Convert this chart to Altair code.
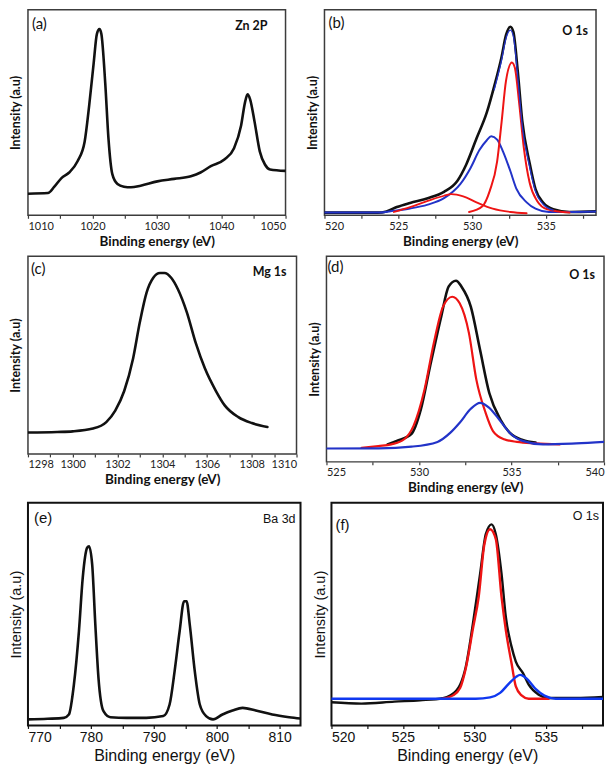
import altair as alt
import pandas as pd

# ---------------- (a) Zn 2p ----------------
a_x = [1010.0, 1013.1, 1014.1, 1015.2, 1016.4, 1017.7, 1018.8, 1019.5, 1020.2, 1020.7, 1021.1,
       1021.4, 1022.0, 1022.5, 1023.1, 1023.9, 1024.9, 1026.0, 1027.5, 1030.1, 1032.7, 1035.3,
       1036.8, 1038.4, 1040.5, 1042.0, 1043.1, 1043.7, 1044.1, 1044.5, 1045.2, 1046.0, 1046.8,
       1047.6, 1050.0]
a_y = [10.5, 10.8, 13.9, 18.1, 20.8, 26.3, 35.8, 53.2, 73.9, 88.1, 90.5,
       88.1, 64.3, 37.4, 20.0, 15.2, 13.9, 13.6, 14.4, 16.5, 17.7, 19.0,
       20.8, 23.9, 27.1, 32.6, 43.7, 54.8, 58.8, 56.4, 45.3, 31.1, 24.7,
       22.3, 21.6]

# ---------------- (b) O 1s ----------------
b_data_x = [520.0, 523.6, 524.2, 524.9, 525.8, 527.0, 528.1, 529.0, 529.6, 530.3, 531.0, 531.5,
            532.0, 532.3, 532.6, 532.8, 533.1, 533.4, 533.9, 534.3, 534.8, 535.5, 536.6, 538.4]
b_data_y = [1.3, 1.3, 1.9, 4.0, 6.0, 8.3, 11.4, 16.7, 24.6, 37.3, 50.0, 62.7,
            77.0, 87.6, 91.7, 89.2, 69.8, 46.0, 25.4, 12.7, 6.3, 2.9, 1.6, 1.9]
b_fit_x = [531.5, 532.0, 532.3, 532.6, 532.8, 533.1, 533.4, 533.9, 534.3, 534.8, 535.5]
b_fit_y = [61.0, 75.5, 86.0, 90.0, 87.0, 67.0, 43.5, 23.5, 11.5, 5.5, 2.5]
b_blue_x = [520.0, 523.6, 524.7, 525.8, 527.0, 528.1, 529.2, 529.9, 530.5, 531.0, 531.3, 531.7,
            532.1, 532.6, 533.0, 533.7, 534.3, 535.2, 538.4]
b_blue_y = [1.3, 1.3, 2.2, 3.3, 5.2, 8.3, 15.1, 23.0, 31.7, 36.5, 38.4, 36.8,
            31.0, 21.4, 13.0, 6.3, 3.2, 1.6, 1.9]
b_red1_x = [529.8, 530.7, 531.2, 531.7, 532.0, 532.3, 532.7, 532.9, 533.2, 533.5, 533.9, 534.4,
            535.1, 536.6]
b_red1_y = [1.6, 4.4, 11.9, 26.2, 45.2, 65.4, 74.3, 71.7, 54.0, 33.3, 15.9, 7.1, 2.9, 1.3]
b_red2_x = [524.7, 525.8, 527.0, 528.1, 528.6, 529.4, 530.3, 531.4, 532.6, 533.7]
b_red2_y = [1.6, 4.0, 7.0, 9.5, 10.3, 9.2, 6.3, 3.2, 1.6, 1.0]

# ---------------- (c) Mg 1s ----------------
c_x = [1298.0, 1299.3, 1300.0, 1300.9, 1301.5, 1301.9, 1302.3, 1302.7, 1303.0, 1303.3, 1303.6,
       1303.9, 1304.1, 1304.4, 1304.7, 1305.1, 1305.5, 1305.9, 1306.4, 1306.8, 1307.4, 1308.0,
       1308.7]
c_y = [10.8, 11.1, 11.4, 12.8, 16.1, 21.9, 31.8, 48.4, 66.7, 81.6, 89.1,
       91.5, 91.5, 89.1, 83.3, 71.6, 56.0, 43.4, 31.8, 24.4, 18.6, 15.6, 13.6]

# ---------------- (d) O 1s ----------------
d_data_x = [528.3, 528.8, 529.6, 530.1, 530.6, 531.2, 531.6, 532.0, 532.3, 532.8, 533.3, 533.8,
            534.4, 534.9, 535.6, 536.3]
d_data_y = [8.5, 10.2, 13.7, 25.5, 46.5, 70.6, 85.2, 88.1, 85.2, 75.5, 54.5, 33.5,
            20.6, 14.2, 10.6, 9.4]
d_red_x = [526.9, 527.8, 528.5, 529.2, 529.7, 530.3, 530.8, 531.3, 531.8, 532.2, 532.7, 533.1,
           533.6, 534.0, 534.6, 535.3, 536.3, 537.6]
d_red_y = [6.8, 7.7, 8.5, 11.0, 17.4, 35.2, 57.7, 75.5, 80.3, 77.1, 62.6, 40.0,
           23.9, 15.0, 11.0, 9.7, 9.0, 8.5]
d_blue_x = [525.0, 527.8, 529.6, 531.0, 531.7, 532.2, 532.8, 533.3, 533.8, 534.4, 534.9, 535.6,
            536.7, 538.5, 540.0]
d_blue_y = [6.5, 6.6, 7.4, 9.7, 14.2, 19.0, 25.8, 28.7, 26.3, 19.8, 14.2, 10.2,
            8.5, 9.0, 9.7]

# ---------------- (e) Ba 3d ----------------
e_x = [770.0, 773.1, 775.7, 776.5, 777.3, 778.1, 778.7, 779.4, 779.7, 780.2, 780.7, 781.2,
       782.0, 783.1, 785.7, 788.8, 791.5, 792.5, 793.3, 794.1, 794.8, 795.2, 795.7, 796.5,
       797.3, 798.3, 799.4, 800.9, 802.5, 804.1, 806.2, 808.8, 811.5, 813.3]
e_y = [2.7, 3.0, 3.4, 4.9, 18.4, 42.4, 66.3, 79.8, 80.5, 72.3, 45.4, 21.4,
       6.4, 3.7, 3.4, 3.4, 4.2, 9.4, 24.4, 42.4, 55.8, 55.8, 45.4, 24.4,
       9.4, 4.2, 2.7, 4.9, 6.7, 7.9, 6.7, 4.9, 3.7, 3.1]

# ---------------- (f) O 1s ----------------
f_data_x = [520.0, 522.1, 524.4, 526.2, 527.8, 528.3, 529.0, 529.4, 529.9, 530.4, 530.8, 531.2,
            531.5, 531.9, 532.2, 532.6, 532.9, 533.4, 533.8, 534.5, 535.2, 537.1, 539.0]
f_data_y = [10.4, 9.8, 10.7, 11.3, 12.2, 13.4, 18.3, 26.4, 45.8, 68.1, 85.9, 90.3,
            85.9, 68.1, 48.7, 35.4, 28.7, 23.5, 18.3, 13.8, 12.3, 12.3, 12.8]
f_red_x = [527.8, 528.5, 529.0, 529.4, 529.9, 530.3, 530.7, 531.1, 531.5, 531.9, 532.2, 532.6,
           532.9, 533.3, 533.8, 535.2]
f_red_y = [12.0, 13.5, 16.8, 25.7, 43.5, 57.7, 81.4, 88.1, 83.7, 57.7, 42.8, 27.9,
           17.5, 13.5, 12.0, 12.0]
f_blue_x = [520.0, 530.1, 531.1, 531.8, 532.4, 532.9, 533.2, 533.7, 534.3, 534.9, 535.7, 539.0]
f_blue_y = [12.0, 12.0, 12.6, 14.6, 18.7, 21.7, 22.7, 20.8, 16.3, 13.4, 12.0, 12.0]

RED = "#ee1414"
BLUE_A = "#2233c8"
BLUE_B = "#1038f0"

STYLE_A = dict(font="Lato", lsize=11, lcolor="#222222", tsize=13.5, tweight="bold",
               ysize=12.5, ypad=5, frame="#3c3c3c", fw=1.5, tagsize=12.5, tagweight="bold",
               letsize=15)
STYLE_E = dict(font="Liberation Sans", lsize=14, lcolor="#111111", tsize=16, tweight="normal",
               ysize=14.5, ypad=4, frame="#111111", fw=2, tagsize=12.5, tagweight="normal",
               letsize=15)


def panel(series, xdom, ticks, mod, w, h, letter, lpos, tag, tpos, st):
    x_enc = alt.X(
        "x:Q",
        scale=alt.Scale(domain=xdom, nice=False, zero=False),
        axis=alt.Axis(
            title="Binding energy (eV)", values=ticks, format="d",
            labelExpr=f"datum.value % {mod} == 0 ? datum.label : ''",
            tickSize=3, tickColor=st["frame"], tickWidth=1.2, domain=False, grid=False,
            labelFont=st["font"], labelFontSize=st["lsize"], labelColor=st["lcolor"],
            labelPadding=2, labelOverlap=False,
            titleFont=st["font"], titleFontSize=st["tsize"], titleFontWeight=st["tweight"],
            titleColor="#111111", titlePadding=3,
        ),
    )
    y_enc = alt.Y(
        "y:Q",
        scale=alt.Scale(domain=[0, 100]),
        axis=alt.Axis(
            title="Intensity (a.u)", labels=False, ticks=False, domain=False, grid=False,
            titleFont=st["font"], titleFontSize=st["ysize"], titleFontWeight=st["tweight"],
            titleColor="#111111", titlePadding=st["ypad"],
        ),
    )
    layers = []
    for xs, ys, color, sw in series:
        df = pd.DataFrame({"x": xs, "y": ys})
        layers.append(
            alt.Chart(df).mark_line(color=color, strokeWidth=sw, interpolate="monotone",
                                    clip=True, strokeJoin="round", strokeCap="round")
            .encode(x=x_enc, y=y_enc)
        )
    t1 = alt.Chart(pd.DataFrame({"t": [letter]})).mark_text(
        align="left", baseline="middle", font=st["font"], fontSize=st["letsize"],
        color="#111111",
    ).encode(x=alt.value(lpos[0]), y=alt.value(lpos[1]), text="t:N")
    t2 = alt.Chart(pd.DataFrame({"t": [tag]})).mark_text(
        align="right", baseline="middle", font=st["font"], fontSize=st["tagsize"],
        fontWeight=st["tagweight"], color="#111111",
    ).encode(x=alt.value(tpos[0]), y=alt.value(tpos[1]), text="t:N")
    return alt.layer(*layers, t1, t2).properties(
        width=w, height=h,
        view=alt.ViewBackground(stroke=st["frame"], strokeWidth=st["fw"], fill="white"),
    )


pa = panel([(a_x, a_y, "#111111", 2.6)], [1010, 1050], list(range(1010, 1051, 5)), 10,
           258, 206, "(a)", (4, 14), "Zn 2P", (240, 16), STYLE_A)

b_ticks = [520 + 2.5 * i for i in range(8)]
pb = panel([(b_data_x, b_data_y, "#111111", 2.6),
            (b_blue_x, b_blue_y, BLUE_A, 2.0),
            (b_red1_x, b_red1_y, RED, 2.0),
            (b_red2_x, b_red2_y, RED, 1.8),
            (b_fit_x, b_fit_y, BLUE_A, 1.3)],
           [520, 538.4], b_ticks, 5, 272, 206, "(b)", (4, 13), "O 1s", (264, 21), STYLE_A)

pc = panel([(c_x, c_y, "#111111", 2.6)], [1298, 1310], list(range(1298, 1311)), 2,
           269, 198, "(c)", (3, 13), "Mg 1s", (259, 16), STYLE_A)

d_ticks = [525 + 2.5 * i for i in range(7)]
pd_ = panel([(d_data_x, d_data_y, "#111111", 2.6),
             (d_red_x, d_red_y, RED, 2.2),
             (d_blue_x, d_blue_y, BLUE_A, 2.2)],
            [525, 540], d_ticks, 5, 278, 206, "(d)", (1, 11), "O 1s", (269, 19), STYLE_A)

pe = panel([(e_x, e_y, "#111111", 2.6)], [770, 813.3], list(range(770, 814, 5)), 10,
           273, 223, "(e)", (6, 15), "Ba 3d", (268, 16), STYLE_E)

f_ticks = [520 + 2.5 * i for i in range(8)]
pf = panel([(f_data_x, f_data_y, "#111111", 2.4),
            (f_red_x, f_red_y, RED, 2.4),
            (f_blue_x, f_blue_y, BLUE_B, 2.4)],
           [520, 539], f_ticks, 5, 272, 223, "(f)", (4, 22), "O 1s", (268, 13), STYLE_E)

row1 = alt.hconcat(pa, pb, spacing=39, bounds="flush")
row2 = alt.hconcat(pc, pd_, spacing=30, bounds="flush")
row3 = alt.hconcat(pe, pf, spacing=31, bounds="flush")
chart = alt.vconcat(row1, row2, row3, spacing=6).properties(
    padding=0, background="white"
)

chart.save("out.html", embed_options={"renderer": "svg", "actions": False})
